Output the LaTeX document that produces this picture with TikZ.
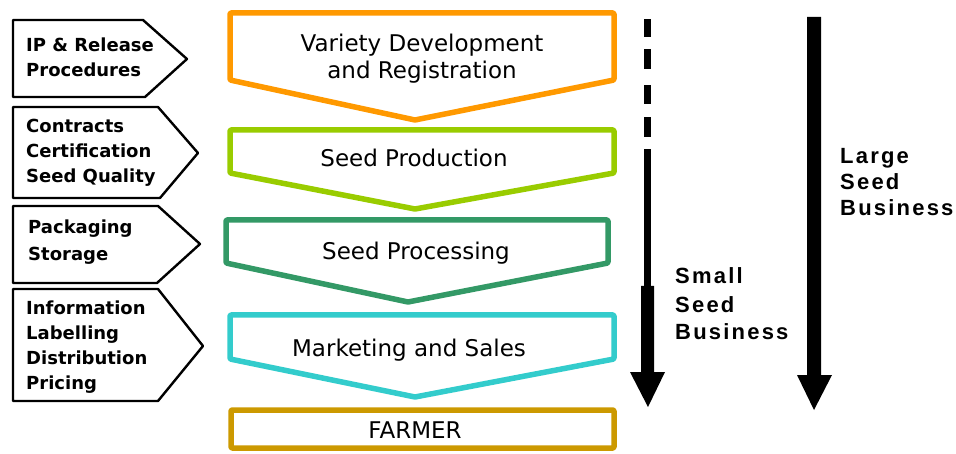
\documentclass[tikz,border=0pt]{standalone}
\usepackage{fontspec}
\setmainfont{DejaVu Sans}
\newfontfamily\labfont{DejaVu Sans}
\newfontfamily\bizfont[LetterSpace=10]{Liberation Sans}
\definecolor{cOrange}{HTML}{FF9900}
\definecolor{cLime}{HTML}{99CC00}
\definecolor{cDGreen}{HTML}{339966}
\definecolor{cCyan}{HTML}{33CCCC}
\definecolor{cGold}{HTML}{CC9900}
\tikzset{
  leftbox/.style={draw=black, line width=2.4pt, line join=round, fill=white},
  stagebox/.style={line width=5.5pt, line join=round, rounded corners=1pt, fill=white},
  lefttext/.style={anchor=base west, align=left, inner sep=0pt, font=\labfont\bfseries\fontsize{18}{25}\selectfont},
  stagetext/.style={anchor=base, align=center, inner sep=0pt, font=\fontsize{23}{27}\selectfont},
  biztext/.style={anchor=base west, align=left, inner sep=0pt, font=\bizfont\bfseries\fontsize{22}{#1}\selectfont},
  bigarrow/.style={fill=black}
}
\begin{document}
\begin{tikzpicture}[x=1pt,y=-1pt]
\useasboundingbox (0,0) rectangle (956,454);
% left pentagon boxes
\draw[leftbox] (13,20) -- (143,20) -- (187,59) -- (145,97) -- (13,97) -- cycle;
\draw[leftbox] (13,107) -- (158,107) -- (198,153) -- (160,198) -- (13,198) -- cycle;
\draw[leftbox] (13,206) -- (158,206) -- (200,244) -- (157,283) -- (13,283) -- cycle;
\draw[leftbox] (13,289) -- (158,289) -- (203,346) -- (158,401) -- (13,401) -- cycle;
\node[lefttext] (l1) at (26,77) {IP \& Release\\Procedures};
\node[lefttext] (l2) at (26,183) {Contracts\\Certification\\Seed Quality};
\node[lefttext] (l3) at (28,261) {Packaging\\[2pt]Storage};
\node[lefttext] (l4) at (26,389) {Information\\Labelling\\Distribution\\Pricing};
% stage boxes
\draw[stagebox, draw=cOrange] (230,13) -- (614,13) -- (614,80) -- (415,120) -- (230,80) -- cycle;
\draw[stagebox, draw=cLime] (230,130) -- (614,130) -- (614,173) -- (415,209) -- (230,173) -- cycle;
\draw[stagebox, draw=cDGreen] (226,220) -- (608,220) -- (608,263) -- (408,302) -- (226,263) -- cycle;
\draw[stagebox, draw=cCyan] (230,315) -- (614,315) -- (614,359) -- (415,397) -- (230,359) -- cycle;
\draw[stagebox, draw=cGold] (231,410) rectangle (614,448);
\node[stagetext] (s1) at (422,79) {Variety Development\\and Registration};
\node[stagetext] (s2) at (414,167) {Seed Production};
\node[stagetext] (s3) at (416,260) {Seed Processing};
\node[stagetext] (s4) at (409,356) {Marketing and Sales};
\node[stagetext] (s5) at (415,438) {FARMER};
% small seed business arrow
\foreach \a/\b in {19/37, 49/69, 85/104, 117/137}
  \fill[black] (644,\a) rectangle (651,\b);
\fill[black] (644,149) rectangle (651,288);
\fill[bigarrow] (641,286) -- (654,286) -- (654,372) -- (665,372) -- (648,407) -- (630,372) -- (641,372) -- cycle;
% large seed business arrow
\fill[bigarrow] (807,17) -- (821,17) -- (821,375) -- (832,375) -- (814,410) -- (797,375) -- (807,375) -- cycle;
\node[biztext=28] (small) at (675,340) {Small\\Seed\\Business};
\node[biztext=26] (large) at (840,216) {Large\\Seed\\Business};
\end{tikzpicture}
\end{document}
